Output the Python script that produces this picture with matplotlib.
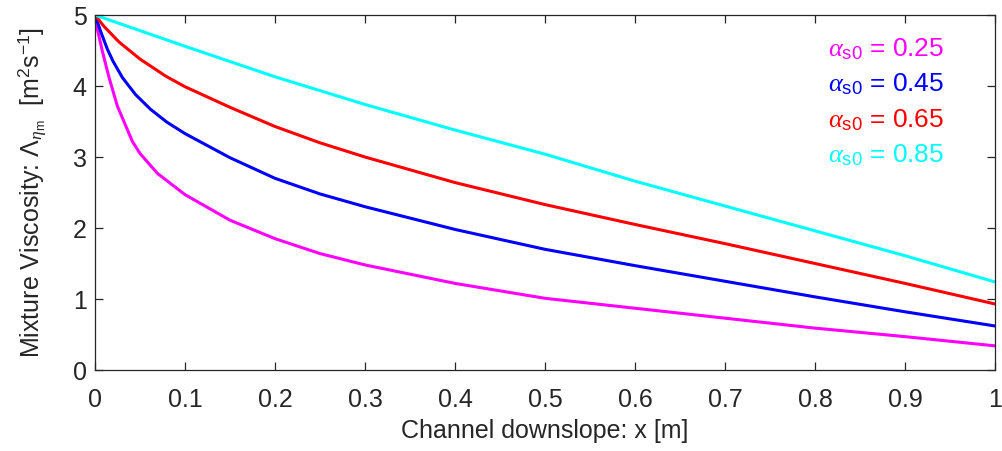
import matplotlib
matplotlib.use('Agg')
import matplotlib.pyplot as plt

plt.rcParams['font.family'] = ['Liberation Sans', 'DejaVu Sans']
plt.rcParams['mathtext.fontset'] = 'custom'
plt.rcParams['mathtext.rm'] = 'Liberation Sans'
plt.rcParams['mathtext.sf'] = 'Liberation Sans'
plt.rcParams['mathtext.it'] = 'Liberation Serif:italic'

# values: x [m] and mixture viscosity
x_025 = [0, 0.003, 0.008, 0.0156, 0.0248, 0.0415, 0.05, 0.0693, 0.1, 0.15, 0.2,
         0.25, 0.3, 0.4, 0.5, 0.6, 0.7, 0.8, 0.9, 1.0]
visc_025 = [5, 4.78, 4.5, 4.12, 3.72, 3.22, 3.05, 2.77, 2.47, 2.11, 1.85,
            1.64, 1.48, 1.22, 1.01, 0.87, 0.73, 0.59, 0.47, 0.34]

x_045 = [0, 0.006, 0.0137, 0.02, 0.0304, 0.045, 0.0619, 0.08, 0.1, 0.15, 0.2,
         0.25, 0.3, 0.4, 0.5, 0.6, 0.7, 0.8, 0.9, 1.0]
visc_045 = [5, 4.78, 4.52, 4.35, 4.12, 3.88, 3.67, 3.49, 3.33, 2.99, 2.70,
            2.48, 2.30, 1.98, 1.70, 1.47, 1.25, 1.03, 0.82, 0.62]

x_065 = [0, 0.01, 0.0267, 0.05, 0.0785, 0.1, 0.15, 0.2, 0.25, 0.3,
         0.4, 0.5, 0.6, 0.7, 0.8, 0.9, 1.0]
visc_065 = [5, 4.84, 4.62, 4.38, 4.14, 3.99, 3.7, 3.43, 3.2, 3.0,
            2.64, 2.33, 2.05, 1.78, 1.5, 1.22, 0.93]

x_085 = [0, 0.05, 0.1, 0.2, 0.3, 0.4, 0.5, 0.6, 0.7, 0.8, 0.9, 1.0]
visc_085 = [5, 4.78, 4.56, 4.13, 3.74, 3.38, 3.04, 2.66, 2.31, 1.96, 1.61, 1.24]

alphas = ['0.25', '0.45', '0.65', '0.85']
colors = ['#ff00ff', '#0000ff', '#ff0000', '#00ffff']

fig = plt.figure(figsize=(10.02, 4.51), dpi=100)
ax = fig.add_axes([0.0948, 0.1796, 0.8982, 0.7871])

series = [(x_025, visc_025), (x_045, visc_045), (x_065, visc_065), (x_085, visc_085)]
for (xs, vals), a, c in zip(series, alphas, colors):
    ax.plot(xs, vals, color=c, lw=2.2, solid_joinstyle='round',
            label=r'$\alpha_{\mathrm{s0}}$ = ' + a)

ax.set_xlim(0, 1)
ax.set_ylim(0, 5)
ax.set_xticks([0, 0.1, 0.2, 0.3, 0.4, 0.5, 0.6, 0.7, 0.8, 0.9, 1])
ax.set_xticklabels(['0', '0.1', '0.2', '0.3', '0.4', '0.5', '0.6', '0.7', '0.8', '0.9', '1'])
ax.set_yticks([0, 1, 2, 3, 4, 5])

gray = '#262626'
for s in ax.spines.values():
    s.set_color(gray)
    s.set_linewidth(0.9)
ax.tick_params(direction='in', top=True, right=True, length=6, width=0.9,
               colors=gray, labelsize=18)
ax.tick_params(axis='x', pad=13)
ax.tick_params(axis='y', pad=6)

ax.set_xlabel('Channel downslope: x [m]', fontsize=18, color=gray, labelpad=5)
ax.set_ylabel(r'Mixture Viscosity: $\mathit{\Lambda}_{\eta_{\mathrm{m}}}$  [m$^{\mathrm{2}}$s$^{\mathrm{-1}}$]',
              fontsize=18, color=gray, labelpad=16)

leg = ax.legend(loc='upper right', bbox_to_anchor=(0.97, 1.007), frameon=False,
                handlelength=0, handletextpad=0, fontsize=19,
                labelspacing=0.37, labelcolor='linecolor')
for h in leg.legend_handles:
    h.set_visible(False)

fig.savefig('out.png', dpi=100)
